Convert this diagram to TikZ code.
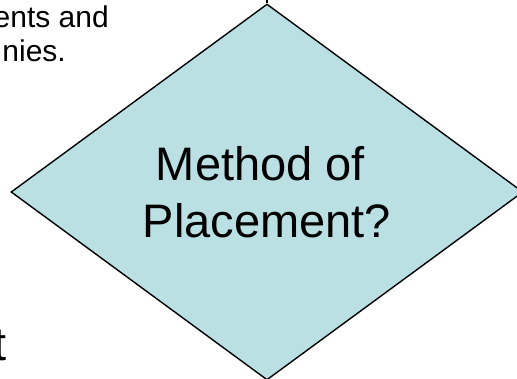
\documentclass[tikz,border=0pt]{standalone}
\usepackage{fontspec}
\setmainfont{Liberation Sans}
\usetikzlibrary{shapes.geometric}
\definecolor{decfill}{RGB}{186,224,228}
\tikzset{
  decision/.style={diamond, draw=black, line width=1.4pt, fill=decfill,
    minimum width=512pt, minimum height=376pt, inner sep=0pt, aspect=1.36,
    align=center, font=\fontsize{47}{57}\selectfont},
  smalltext/.style={inner sep=0pt, anchor=base east, font=\fontsize{30}{34}\selectfont},
  bigtext/.style={inner sep=0pt, anchor=base east, font=\fontsize{47}{57}\selectfont},
  conn/.style={draw=black, line width=1.4pt}
}
\begin{document}
\begin{tikzpicture}[x=1pt,y=1pt]
\useasboundingbox (0,0) rectangle (517,378);
\node[decision] (dec) at (267,186) {Method of\hspace*{0.278em}\\Placement?};
\coordinate (in) at (267,395);
\draw[conn] (in) -- (dec.north);
\node[smalltext] (t1) at (109,350) {ents and};
\node[smalltext] (t2) at (66,316) {nies.};
\node[bigtext] (t3) at (7,18) {t};
\end{tikzpicture}
\end{document}
